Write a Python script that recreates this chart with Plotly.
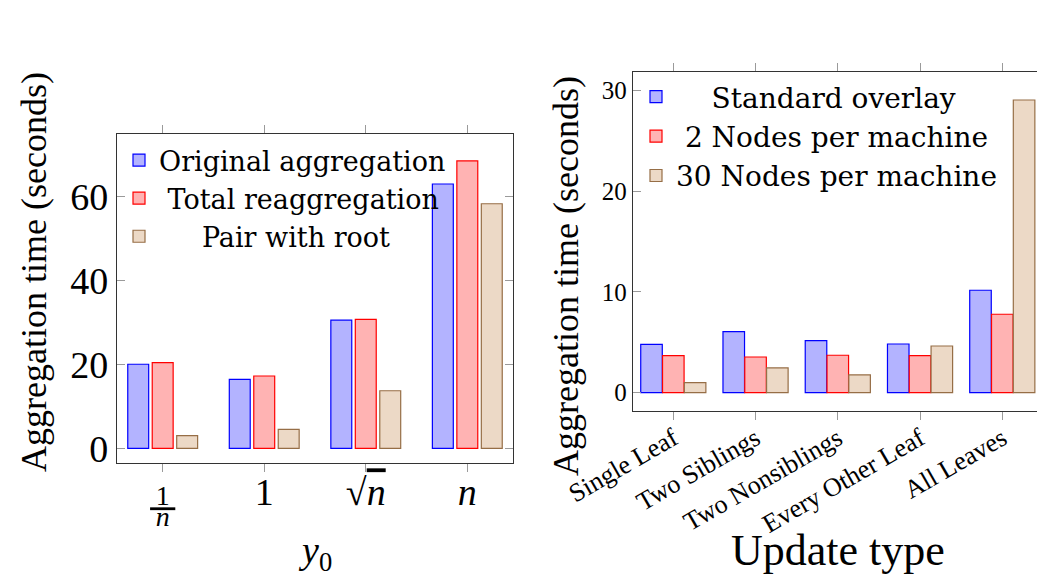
import plotly.graph_objects as go

# ---------------- data ----------------
left_categories = ["1/n", "1", "sqrt n", "n"]
left_ticktext = [
    "<span style='font-size:28px'><u>&#8201;1&#8201;</u></span><br><span style='font-size:28px'><i>n</i></span>",
    "<span style='font-size:38px'>1</span>",
    "<span style='font-size:38px'>√<span style='text-decoration:overline'><i>n</i></span></span>",
    "<span style='font-size:38px'><i>n</i></span>",
]
left_series_names = ["Original aggregation", "\u00a0Total reaggregation", "\u00a0\u00a0\u00a0\u00a0\u00a0Pair with root"]
left_original = [20.0, 16.4, 30.5, 62.9]
left_total = [20.4, 17.2, 30.7, 68.4]
left_pair = [3.0, 4.5, 13.7, 58.2]
left_yticks = [0, 20, 40, 60]

right_categories = ["Single Leaf", "Two Siblings", "Two Nonsiblings", "Every Other Leaf", "All Leaves"]
right_series_names = ["\u00a0\u00a0\u00a0\u00a0Standard overlay", "\u00a02 Nodes per machine", "30 Nodes per machine"]
right_standard = [4.8, 6.05, 5.16, 4.83, 10.16]
right_two = [3.67, 3.54, 3.71, 3.67, 7.78]
right_thirty = [0.99, 2.45, 1.76, 4.63, 29.04]
right_yticks = [0, 10, 20, 30]

# ---------------- styles ----------------
FONT = "Liberation Serif, DejaVu Serif, serif"
LFONT = "DejaVu Serif, Liberation Serif, serif"
fills = ["rgb(179,179,255)", "rgb(255,179,179)", "rgb(236,217,198)"]
lines = ["rgb(0,0,255)", "rgb(255,0,0)", "rgb(150,110,70)"]
AXC = "#333333"
TICKC = "#9a9a9a"

fig = go.Figure()

left_vals = [left_original, left_total, left_pair]
left_w = 0.206
left_centers = [-0.241, 0.0, 0.241]
for i in range(3):
    fig.add_trace(go.Bar(
        x=list(range(len(left_categories))), y=left_vals[i], name=left_series_names[i],
        width=left_w, offset=left_centers[i] - left_w / 2,
        marker=dict(color=fills[i], line=dict(color=lines[i], width=1.2)),
        xaxis="x", yaxis="y", legend="legend",
    ))

right_vals = [right_standard, right_two, right_thirty]
right_w = 0.262
right_centers = [-0.265, 0.0, 0.265]
for i in range(3):
    fig.add_trace(go.Bar(
        x=list(range(len(right_categories))), y=right_vals[i], name=right_series_names[i],
        width=right_w, offset=right_centers[i] - right_w / 2,
        marker=dict(color=fills[i], line=dict(color=lines[i], width=1.2)),
        xaxis="x2", yaxis="y2", legend="legend2",
    ))

common_x = dict(showgrid=False, zeroline=False, showline=True, linecolor=AXC, linewidth=1.3,
                mirror="ticks", ticks="outside", ticklen=8, tickcolor=TICKC, tickwidth=1,
                automargin=False)
common_y = dict(showgrid=False, zeroline=False, showline=True, linecolor=AXC, linewidth=1.3,
                ticks="inside", ticklen=8, tickcolor=TICKC, tickwidth=1, automargin=False)

fig.update_layout(
    template="none",
    width=1037, height=577,
    margin=dict(l=0, r=0, t=0, b=0, autoexpand=False),
    paper_bgcolor="white", plot_bgcolor="white",
    barmode="overlay",
    font=dict(family=FONT, color="black"),
    showlegend=True,
    xaxis=dict(domain=[117 / 1037, 513 / 1037], anchor="y", range=[-0.45, 3.45],
               tickmode="array", tickvals=list(range(len(left_categories))), ticktext=left_ticktext,
               tickfont=dict(size=16, family=FONT, color="black"), ticklabelstandoff=14, **common_x),
    yaxis=dict(domain=[1 - 463 / 577, 1 - 134 / 577], anchor="x", range=[-3.5, 74.8],
               tickmode="array", tickvals=left_yticks, ticktext=[str(v) for v in left_yticks],
               tickfont=dict(size=38, family=FONT, color="black"), mirror="ticks", **common_y),
    xaxis2=dict(domain=[633 / 1037, 1.0], anchor="y2", range=[-0.49, 4.422],
                tickmode="array", tickvals=list(range(len(right_categories))), ticktext=right_categories,
                tickangle=-30, tickfont=dict(size=26, family=FONT, color="black"),
                ticklabelstandoff=-7, **common_x),
    yaxis2=dict(domain=[1 - 411 / 577, 1 - 71.7 / 577], anchor="x2", range=[-1.82, 31.85],
                tickmode="array", tickvals=right_yticks, ticktext=[str(v) for v in right_yticks],
                tickfont=dict(size=25, family=FONT, color="black"), mirror=False, **common_y),
    legend=dict(x=119 / 1037, y=1 - 136 / 577, xanchor="left", yanchor="top",
                bgcolor="rgba(0,0,0,0)", borderwidth=0, font=dict(size=27, family=LFONT, color="black")),
    legend2=dict(x=636 / 1037, y=1 - 72 / 577, xanchor="left", yanchor="top",
                 bgcolor="rgba(0,0,0,0)", borderwidth=0, font=dict(size=28, family=LFONT, color="black")),
    annotations=[
        dict(text="Aggregation time (seconds)", xref="paper", yref="paper", x=34 / 1037, y=1 - 272 / 577,
             textangle=-90, showarrow=False, font=dict(size=36, family=FONT), xanchor="center", yanchor="middle"),
        dict(text="<i>y</i><sub>0</sub>", xref="paper", yref="paper", x=315 / 1037, y=1 - 553 / 577,
             showarrow=False, font=dict(size=38, family=FONT), xanchor="center", yanchor="middle"),
        dict(text="Aggregation time (seconds)", xref="paper", yref="paper", x=566 / 1037, y=1 - 276 / 577,
             textangle=-90, showarrow=False, font=dict(size=36, family=FONT), xanchor="center", yanchor="middle"),
        dict(text="Update type", xref="paper", yref="paper", x=838 / 1037, y=1 - 550 / 577,
             showarrow=False, font=dict(size=44, family=FONT), xanchor="center", yanchor="middle"),
    ],
)

fig.write_html("out.html")
